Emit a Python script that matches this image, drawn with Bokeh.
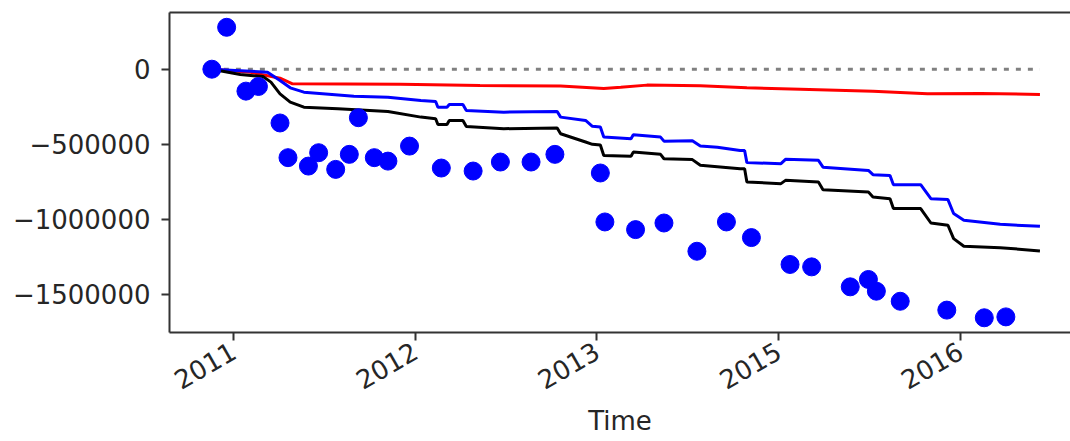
import math
from bokeh.plotting import figure
from bokeh.models import FixedTicker, LinearAxis, Range1d
from bokeh.embed import file_html
from bokeh.resources import INLINE

# x values: months counted from January 2010
tick_months = [12, 28, 44, 60, 76]
tick_labels = ["2011", "2012", "2013", "2015", "2016"]

y_ticks = [-1500000, -1000000, -500000, 0]
y_tick_labels = ["\u22121500000", "\u22121000000", "\u2212500000", "0"]

points_x = [10.1, 11.4, 13.1, 14.2, 16.1, 16.8, 18.6, 19.5, 21.0, 22.2, 23.0, 24.4,
            25.6, 27.5, 30.3, 33.1, 35.5, 38.2, 40.3, 44.3, 44.7, 47.4, 49.9, 52.8,
            55.4, 57.6, 61.0, 62.9, 66.3, 67.9, 68.6, 70.7, 74.8, 78.1, 80.0]
points_y = [0, 279000, -146000, -115000, -358000, -589000, -645000, -556000, -667000,
            -567000, -323000, -589000, -612000, -512000, -658000, -678000, -618000,
            -618000, -567000, -691000, -1017000, -1068000, -1024000, -1212000, -1017000,
            -1121000, -1300000, -1316000, -1449000, -1400000, -1478000, -1545000,
            -1604000, -1655000, -1649000]

blue_x = [10.1, 12.2, 15.0, 16.1, 17.0, 18.2, 22.6, 25.6, 28.5, 29.8, 30.0, 30.8, 31.0,
          32.2, 32.5, 35.8, 40.5, 40.8, 43.0, 43.6, 44.3, 44.6, 47.0, 47.2, 49.6, 49.9,
          52.4, 53.1, 54.6, 56.6, 57.0, 57.2, 60.2, 60.6, 63.5, 63.9, 67.9, 68.3, 69.8,
          70.1, 72.5, 73.4, 74.9, 75.4, 76.3, 79.5, 83.0]
blue_y = [0, -8000, -20000, -75000, -124000, -153000, -180000, -186000, -208000, -215000,
          -253000, -253000, -235000, -235000, -275000, -286000, -281000, -319000, -341000,
          -380000, -385000, -452000, -463000, -436000, -452000, -479000, -476000, -512000,
          -519000, -541000, -541000, -622000, -629000, -600000, -607000, -652000, -674000,
          -702000, -707000, -769000, -769000, -862000, -868000, -961000, -1006000,
          -1033000, -1046000]

black_x = [10.1, 12.6, 14.6, 15.3, 16.1, 17.0, 18.2, 21.2, 25.6, 28.5, 29.8, 30.0, 30.8,
           31.0, 32.2, 32.5, 35.8, 40.5, 40.8, 43.0, 43.6, 44.3, 44.6, 47.0, 47.2, 49.6,
           49.9, 52.4, 53.1, 56.6, 57.0, 57.2, 60.2, 60.6, 63.5, 63.9, 67.9, 68.3, 69.8,
           70.1, 72.5, 73.4, 74.9, 75.4, 76.3, 79.5, 83.0]
black_y = [0, -35000, -49000, -86000, -164000, -219000, -253000, -263000, -281000, -319000,
           -330000, -368000, -368000, -341000, -341000, -381000, -396000, -392000, -430000,
           -485000, -500000, -505000, -574000, -580000, -552000, -567000, -596000, -602000,
           -640000, -662000, -662000, -751000, -762000, -740000, -751000, -802000, -818000,
           -851000, -862000, -928000, -928000, -1024000, -1039000, -1128000, -1179000,
           -1188000, -1210000]

red_x = [10.1, 13.5, 16.1, 17.2, 26.7, 33.7, 40.8, 44.6, 46.1, 48.4, 53.1, 57.2, 61.9,
         68.3, 73.1, 77.8, 83.0]
red_y = [0, -20000, -60000, -97000, -100000, -108000, -112000, -128000, -120000, -106000,
         -110000, -124000, -133000, -146000, -164000, -162000, -168000]

zero_x = [10.1, 83.0]
zero_y = [0, 0]

FONT = "DejaVu Sans"
TXT = "#262626"
AX = "#333333"

p = figure(width=1070, height=441, output_backend="svg", toolbar_location=None,
           x_range=Range1d(6.37, 85.69), y_range=Range1d(-1753000, 377500),
           min_border_left=169, min_border_right=0, min_border_top=12, min_border_bottom=109,
           x_axis_label="Time")
p.outline_line_color = None
p.xgrid.visible = False
p.ygrid.visible = False
p.background_fill_color = "white"
p.border_fill_color = "white"

p.line(zero_x, zero_y, line_color="#808080", line_width=3, line_dash="5 7")
p.line(red_x, red_y, line_color="#ff0000", line_width=3)
p.line(blue_x, blue_y, line_color="#0000ff", line_width=3)
p.line(black_x, black_y, line_color="#000000", line_width=3)
p.scatter(points_x, points_y, size=18, fill_color="#0000ff", line_color="#0000ff")

xa = p.xaxis[0]
xa.ticker = FixedTicker(ticks=tick_months)
xa.major_label_overrides = {m: l for m, l in zip(tick_months, tick_labels)}
xa.major_label_orientation = math.pi / 6
xa.minor_tick_line_color = None

ya = p.yaxis[0]
ya.ticker = FixedTicker(ticks=y_ticks)
ya.major_label_overrides = {v: l for v, l in zip(y_ticks, y_tick_labels)}
ya.minor_tick_line_color = None

for ax in (xa, ya):
    ax.axis_line_color = AX
    ax.axis_line_width = 2
    ax.major_tick_line_color = AX
    ax.major_tick_line_width = 2
    ax.major_tick_out = 8
    ax.major_tick_in = 0
    ax.major_label_text_font = FONT
    ax.major_label_text_font_size = "26px"
    ax.major_label_text_color = TXT
    ax.major_label_standoff = 11
xa.major_label_standoff = 8
xa.axis_label_text_font = FONT
xa.axis_label_text_font_size = "26px"
xa.axis_label_text_font_style = "normal"
xa.axis_label_text_color = TXT
xa.axis_label_standoff = 4

top = LinearAxis(ticker=FixedTicker(ticks=[]), axis_line_color=AX, axis_line_width=2,
                 major_tick_line_color=None, minor_tick_line_color=None)
p.add_layout(top, "above")

open("out.html", "w").write(file_html(p, INLINE))
